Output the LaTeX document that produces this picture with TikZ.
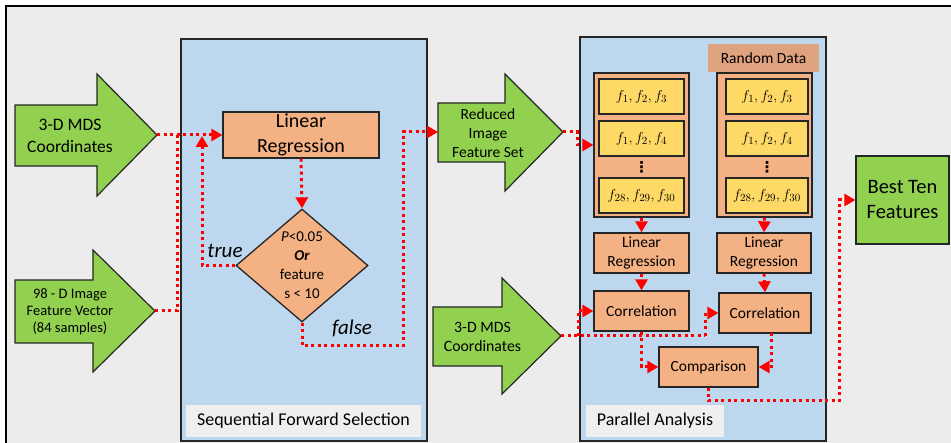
\documentclass[tikz,border=0pt]{standalone}
\usepackage{fontspec}
\setmainfont{Carlito}
\newfontfamily\symfont{DejaVu Sans}
\usetikzlibrary{shapes.geometric,arrows.meta}

\definecolor{bg}{HTML}{ECECEC}
\definecolor{panel}{HTML}{BDD7EE}
\definecolor{tag}{HTML}{EFEFEF}
\definecolor{peach}{HTML}{F4B183}
\definecolor{rust}{HTML}{DFA27F}
\definecolor{gold}{HTML}{FFD966}
\definecolor{leaf}{HTML}{92D050}
\definecolor{edge}{HTML}{262626}

\tikzset{
  fs/.style 2 args={font=\fontsize{#1}{#2}\selectfont},
  wh/.style 2 args={minimum width=#1pt, minimum height=#2pt},
  panelbox/.style={draw=edge, line width=1.3pt, fill=panel, inner sep=0pt},
  tagbox/.style={fill=tag, inner sep=0pt, fs={18}{20}},
  box/.style={draw=edge, line width=1.3pt, fill=peach, align=center, inner sep=0pt},
  ybox/.style={draw=edge, line width=1.3pt, fill=gold, inner sep=0pt, fs={15.5}{18}},
  garrow/.style={draw=edge, line width=1.2pt, fill=leaf, line join=miter},
  gtext/.style={align=center, inner sep=0pt},
  ital/.style={inner sep=0pt, font=\fontsize{21}{21}\selectfont\itshape},
  vdots/.style={inner sep=0pt, font=\fontsize{15}{15}\selectfont\symfont\bfseries},
  flowplain/.style={draw=red, line width=3pt, dash pattern=on 3pt off 3.5pt},
  flow/.style={flowplain, -{Triangle[length=11pt,width=12pt]}},
}

\begin{document}
\begin{tikzpicture}[x=1pt,y=-1pt]
\useasboundingbox (0,0) rectangle (951,443);
\clip (0,0) rectangle (951,443);
\fill[white] (0,0) rectangle (951,443);
% outer frame
\draw[line width=2pt, fill=bg] (6,6) rectangle (1000,520);

% the two processing panels
\node[panelbox, wh={246}{402}] (sfspanel) at (304,240) {};
\node[panelbox, wh={246}{404}] (papanel) at (703,239) {};
\node[tagbox, wh={235}{32}] (sfs) at (303.5,421) {Sequential Forward Selection};
\node[tagbox, wh={138}{32}] (pa) at (655,421) {Parallel Analysis};

% green input/output arrows
\draw[garrow] (15,105) -- (97,105) -- (97,74) -- (157,135) -- (97,196) -- (97,166) -- (15,166) -- cycle;
\coordinate (a1tip) at (157,135);
\node[gtext, fs={17.5}{22}] (a1) at (70,136) {3-D MDS\\Coordinates};

\draw[garrow] (15,280) -- (93,280) -- (93,250) -- (155,311) -- (93,372) -- (93,343) -- (15,343) -- cycle;
\coordinate (a2tip) at (155,311);
\node[gtext, fs={14.5}{17}] (a2) at (70,312) {98 - D Image\\Feature Vector\\(84 samples)};

\draw[garrow] (438,103) -- (505,103) -- (505,74) -- (563,132) -- (505,191) -- (505,162) -- (438,162) -- cycle;
\coordinate (a3tail) at (438,132);
\coordinate (a3tip) at (563,132);
\node[gtext, fs={15.5}{19}] (a3) at (488,133) {Reduced\\Image\\Feature Set};

\draw[garrow] (433,307) -- (502,307) -- (502,278) -- (561,336) -- (502,394) -- (502,366) -- (433,366) -- cycle;
\coordinate (a4tip) at (561,336);
\node[gtext, fs={15.8}{19}] (a4) at (482.5,337) {3-D MDS\\Coordinates};

\node[box, fill=leaf, wh={93}{88}, fs={20.5}{25}] (best) at (902.5,200) {Best Ten\\Features};

% sequential forward selection
\node[box, wh={156}{46}, fs={20}{25}] (lr) at (301,135) {Linear\\Regression};
\node[diamond, draw=edge, line width=1.3pt, fill=peach, inner sep=0pt, wh={132}{113}] (dia) at (302,265.5) {};
\node[gtext, fs={15}{19}] (diat) at (dia.center) {\textit{P}<0.05\\\textbf{\textit{Or}}\\feature\\s < 10};
\node[ital] (true) at (225,251) {true};
\node[ital] (false) at (352,328) {false};

% parallel analysis
\node[fill=rust, inner sep=0pt, wh={111}{28}, fs={15.5}{18}] (rnd) at (763.5,58) {Random Data};
\node[box, wh={95}{144}] (col1) at (641.5,145) {};
\node[box, wh={95}{144}] (col2) at (764.5,145) {};
\node[ybox, wh={85}{35}] (f11) at (641.5,96.5) {$f_1, f_2, f_3$};
\node[ybox, wh={85}{35}] (f12) at (641.5,138.5) {$f_1, f_2, f_4$};
\node[vdots] (d1) at (641.5,167) {⋮};
\node[ybox, wh={85}{35}] (f13) at (641.5,195.5) {$f_{28}, f_{29}, f_{30}$};
\node[ybox, wh={82}{35}] (f21) at (767,96.5) {$f_1, f_2, f_3$};
\node[ybox, wh={82}{35}] (f22) at (767,138.5) {$f_1, f_2, f_4$};
\node[vdots] (d2) at (767,167) {⋮};
\node[ybox, wh={82}{35}] (f23) at (767,195.5) {$f_{28}, f_{29}, f_{30}$};

\node[box, wh={95}{40}, fs={15.5}{19}] (lr1) at (641.5,253) {Linear\\Regression};
\node[box, wh={94}{40}, fs={15.5}{19}] (lr2) at (764,253) {Linear\\Regression};
\node[box, wh={95}{40}, fs={15.5}{19}] (corr1) at (641.5,311) {Correlation};
\node[box, wh={92}{40}, fs={15.5}{19}] (corr2) at (765,313) {Correlation};
\node[box, wh={99}{40}, fs={15.5}{19}] (cmp) at (708.5,367) {Comparison};

% junction points of the dotted flow lines
\coordinate (merge) at (177,135);
\coordinate (loop) at (202,136);
\coordinate (fb) at (403,346);
\coordinate (s1) at (577,145);
\coordinate (k0) at (578,336);
\coordinate (k1) at (705,336);
\coordinate (c2b) at (771,333);
\coordinate (r1) at (839,401);

% flow lines
\draw[flowplain] (a2tip) -| (merge);
\draw[flow] (a1tip) -- (lr.west);
\draw[flow] (dia.west) -| (loop);
\draw[flow] (lr.south) -- (dia.north);
\draw[flow] (dia.south) |- (fb) |- (a3tail);
\draw[flow] (a3tip) -| (s1) -- (col1.west);
\draw[flow] (col1.south) -- (lr1.north);
\draw[flow] (col2.south) -- (lr2.north);
\draw[flow] (lr1.south) -- (corr1.north);
\draw[flow] (lr2.south) -- (corr2.north);
\draw[flowplain] (a4tip) -- (k1);
\draw[flow] (k0) |- (corr1.west);
\draw[flow] (k1) |- (corr2.west);
\draw[flow] (corr1.south) |- (cmp.west);
\draw[flow] (c2b) |- (cmp.east);
\draw[flow] (cmp.south) |- (r1) |- (best.west);
\end{tikzpicture}
\end{document}
